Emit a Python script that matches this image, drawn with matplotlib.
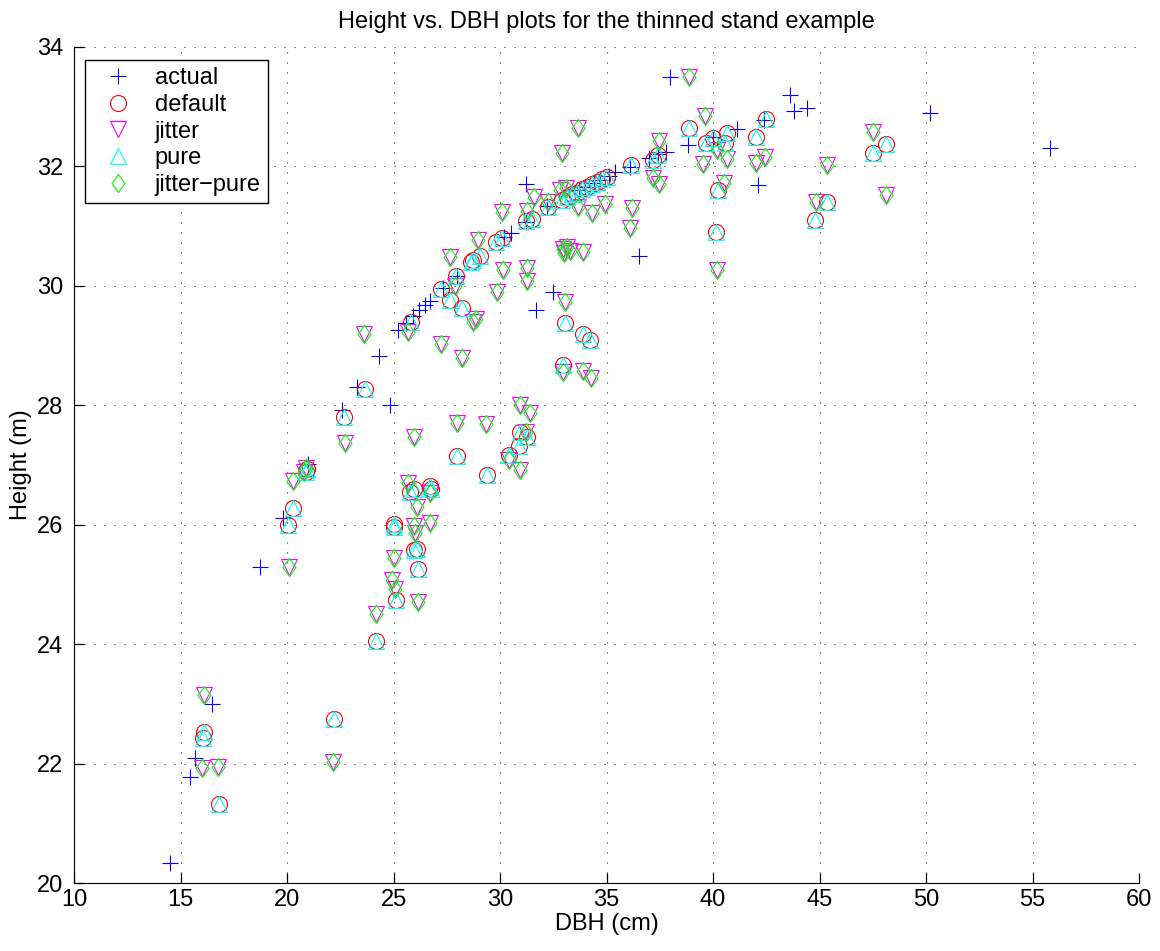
import numpy as np
import matplotlib
matplotlib.use('Agg')
import matplotlib.pyplot as plt
from matplotlib.path import Path

plt.rcParams['font.family'] = ['Liberation Sans', 'DejaVu Sans']

# -----------------------------------------------------------------------------
# data (DBH in cm, height in m)
# -----------------------------------------------------------------------------
actual_dbh = [14.5, 15.45, 15.7, 16.5, 18.75, 19.8, 21.0, 22.6, 23.3, 24.3,
              24.85, 25.2, 25.6, 25.9, 26.2, 26.5, 26.7, 27.3, 28.0, 30.2,
              30.5, 31.2, 31.2, 31.7, 32.2, 32.5, 33.7, 34.0, 34.4, 34.7,
              35.1, 35.4, 36.1, 36.5, 37.0, 37.4, 37.8, 38.0, 38.8, 40.0,
              41.1, 42.1, 42.4, 43.6, 43.8, 44.4, 50.2, 55.8]
actual_h = [20.33, 21.77, 22.1, 23.0, 25.3, 26.12, 27.02, 27.92, 28.31, 28.82,
            28.0, 29.26, 29.38, 29.5, 29.6, 29.68, 29.74, 29.96, 30.17, 30.82,
            30.88, 31.07, 31.7, 29.6, 31.33, 29.9, 31.6, 31.66, 31.72, 31.77,
            31.84, 31.9, 31.99, 30.5, 32.14, 32.2, 32.24, 33.5, 32.36, 32.5,
            32.63, 31.69, 32.77, 33.2, 32.92, 32.98, 32.9, 32.31]

default_dbh = [16.8, 16.05, 16.1, 22.2, 24.2, 25.1, 26.15, 25.95, 26.1, 25.0,
               25.0, 20.05, 20.3, 25.75, 25.95, 26.7, 26.75, 20.9, 20.95, 29.4,
               28.0, 30.4, 30.95, 31.25, 30.9, 22.68, 23.65, 32.95, 34.2, 33.9,
               33.05, 25.8, 28.2, 27.65, 27.25, 27.93, 28.65, 28.75, 29.05, 29.8,
               30.1, 31.2, 31.5, 32.25, 32.9, 33.15, 33.4, 33.6, 33.85, 34.1,
               34.3, 34.55, 34.8, 35.0, 36.15, 37.2, 37.4, 38.85, 39.65, 40.0,
               40.55, 40.65, 42.0, 42.5, 40.25, 40.15, 44.8, 45.35, 47.5, 48.1]
default_h = [21.32, 22.42, 22.53, 22.75, 24.06, 24.74, 25.25, 25.57, 25.6, 25.96,
             26.02, 26.0, 26.28, 26.55, 26.6, 26.64, 26.6, 26.88, 26.93, 26.83,
             27.15, 27.16, 27.55, 27.47, 27.32, 27.8, 28.27, 28.68, 29.1, 29.2,
             29.38, 29.4, 29.63, 29.77, 29.95, 30.16, 30.4, 30.43, 30.5, 30.73,
             30.8, 31.08, 31.12, 31.32, 31.44, 31.48, 31.53, 31.56, 31.62, 31.66,
             31.7, 31.74, 31.79, 31.83, 32.02, 32.1, 32.19, 32.64, 32.4, 32.48,
             32.39, 32.56, 32.49, 32.8, 31.6, 30.9, 31.1, 31.4, 32.22, 32.38]

jitter_dbh = [16.1, 16.0, 16.75, 22.15, 20.1, 24.2, 25.0, 24.95, 25.07, 26.15,
              25.95, 26.0, 25.7, 26.1, 26.7, 26.7, 25.95, 20.3, 20.9, 20.8,
              22.7, 27.98, 29.35, 30.95, 31.4, 31.2, 30.95, 30.4, 23.6, 25.7,
              27.22, 28.2, 27.65, 28.95, 28.75, 28.85, 29.85, 30.15, 31.25, 31.25,
              30.1, 31.25, 31.6, 32.25, 32.8, 33.1, 33.65, 32.9, 33.05, 32.95,
              33.9, 34.25, 32.95, 33.15, 33.3, 33.0, 33.9, 33.65, 34.3, 34.95,
              36.2, 36.1, 37.2, 37.45, 37.45, 38.85, 39.6, 39.55, 40.65, 40.2,
              40.5, 40.2, 42.0, 42.45, 44.85, 45.35, 47.5, 48.1, 27.9]
jitter_h = [23.15, 21.92, 21.95, 22.03, 25.3, 24.5, 25.45, 25.07, 24.93, 24.7,
            25.97, 25.86, 26.7, 26.3, 26.53, 26.03, 27.47, 26.73, 26.95, 26.88,
            27.37, 27.7, 27.68, 28.0, 27.87, 27.55, 26.92, 27.08, 29.2, 29.22,
            29.02, 28.8, 30.48, 30.77, 29.4, 29.45, 29.9, 30.26, 30.3, 30.08,
            31.24, 31.26, 31.49, 31.4, 31.6, 31.64, 32.64, 32.23, 29.73, 28.55,
            28.57, 28.45, 30.62, 30.65, 30.58, 30.55, 30.56, 31.32, 31.22, 31.37,
            31.31, 30.97, 31.81, 31.71, 32.42, 33.5, 32.84, 32.04, 32.12, 32.27,
            31.72, 30.26, 32.06, 32.15, 31.4, 32.02, 32.58, 31.52, 30.0]

# the pure fits sit on top of the default / jitter ones
pure_dbh, pure_h = default_dbh, default_h
jpure_dbh, jpure_h = jitter_dbh, jitter_h

xticks = [10, 15, 20, 25, 30, 35, 40, 45, 50, 55, 60]
yticks = [20, 22, 24, 26, 28, 30, 32, 34]

# matlab style diamond, a bit taller than wide
diamond = Path([(0, 1), (0.72, 0), (0, -1), (-0.72, 0), (0, 1)],
               [Path.MOVETO, Path.LINETO, Path.LINETO, Path.LINETO,
                Path.CLOSEPOLY])

fs = 17

# -----------------------------------------------------------------------------
# plot
# -----------------------------------------------------------------------------
fig = plt.figure(figsize=(11.6, 9.51), dpi=100)
ax = fig.add_axes([0.0638, 0.0715, 0.9182, 0.8791])

mew = 0.8
ax.plot(actual_dbh, actual_h, linestyle='none', marker='+', ms=11,
        mew=mew, color=(0, 0, 1), label='actual')
ax.plot(default_dbh, default_h, linestyle='none', marker='o', ms=11.5,
        mew=mew, mfc='none', color=(1, 0, 0), label='default')
ax.plot(jitter_dbh, jitter_h, linestyle='none', marker='v', ms=11.5,
        mew=mew, mfc='none', color=(1, 0, 1), label='jitter')
ax.plot(pure_dbh, pure_h, linestyle='none', marker='^', ms=11.5,
        mew=mew, mfc='none', color=(0, 1, 1), label='pure')
ax.plot(jpure_dbh, jpure_h, linestyle='none', marker=diamond, ms=13,
        mew=mew, mfc='none', color=(0, 1, 0), label='jitter\u2212pure')

ax.set_xlim(10, 60)
ax.set_ylim(20, 34)
ax.set_xticks(xticks)
ax.set_yticks(yticks)
ax.tick_params(direction='in', length=7, width=0.9, labelsize=fs,
               top=False, right=False)
ax.tick_params(axis='y', pad=8)
ax.tick_params(axis='x', pad=4)
ax.grid(True, color='k', linestyle=(0, (1, 8)), linewidth=0.8, alpha=0.8)
for side in ['top', 'right']:
    ax.spines[side].set_visible(False)
for side in ['left', 'bottom']:
    ax.spines[side].set_linewidth(0.8)

ax.set_xlabel('DBH (cm)', fontsize=fs, labelpad=2)
ax.set_ylabel('Height (m)', fontsize=fs, labelpad=3)
ax.set_title('Height vs. DBH plots for the thinned stand example',
             fontsize=fs, pad=14)

leg = ax.legend(loc='upper left', bbox_to_anchor=(0.0103, 0.9844),
                borderaxespad=0, fontsize=fs, fancybox=False,
                edgecolor='k', framealpha=1, handlelength=2.2,
                handletextpad=0.45, labelspacing=0.2, borderpad=0.3)
leg.get_frame().set_linewidth(1.0)

fig.savefig('out.png', dpi=100)
